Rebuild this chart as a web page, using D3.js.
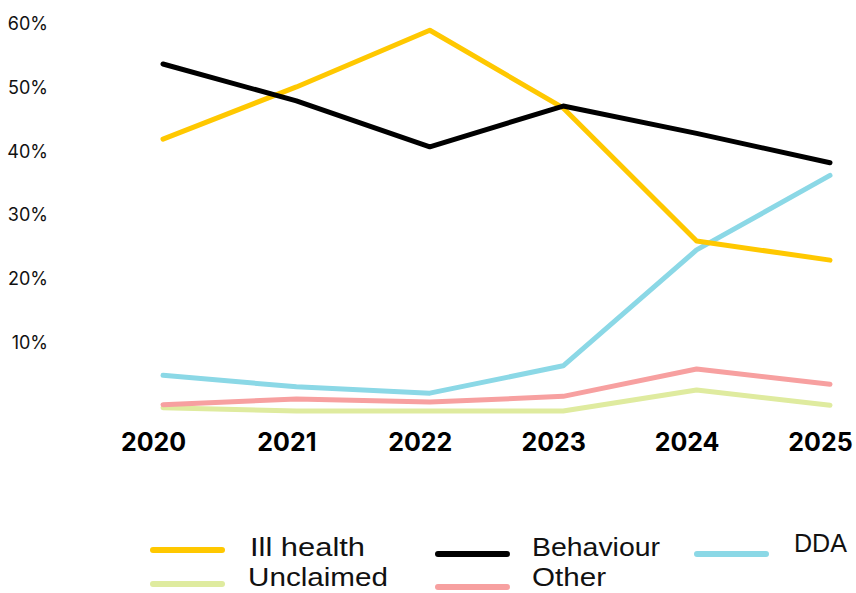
<!DOCTYPE html>
<html>
<head>
<meta charset="utf-8">
<script src="https://cdn.jsdelivr.net/npm/d3@7"></script>
<style>
  body { margin: 0; background: #fff; }
  svg { display: block; }
</style>
</head>
<body>
<div id="chart"></div>
<script>
const years = ["2020", "2021", "2022", "2023", "2024", "2025"];

const illHealth  = [42.7, 50.9, 59.8, 47.6, 26.7, 23.7];
const behaviour  = [54.5, 48.7, 41.5, 47.9, 43.6, 39.0];
const dda        = [5.6, 3.8, 2.8, 7.1, 25.3, 37.0];
const other      = [1.0, 1.9, 1.4, 2.3, 6.6, 4.2];
const unclaimed  = [0.5, 0.0, 0.0, 0.0, 3.3, 0.9];

const yTicks = [10, 20, 30, 40, 50, 60];

const seriesNames = ["Ill health", "Behaviour", "DDA", "Unclaimed", "Other"];
const seriesValues = [illHealth, behaviour, dda, unclaimed, other];
const seriesColors = ["#ffc800", "#000000", "#8bd8e6", "#dfeb9f", "#f7a0a0"];

const width = 856, height = 593;

const svg = d3.select("#chart")
  .append("svg")
  .attr("width", width)
  .attr("height", height);

const x = d3.scalePoint().domain(years).range([163, 830]);
const y = d3.scaleLinear().domain([0, 60]).range([411, 29]);

// y labels (no axis line)
const yAxis = svg.append("g")
  .attr("transform", "translate(48,0)")
  .call(d3.axisLeft(y).tickValues(yTicks).tickFormat(d => d + "%").tickSize(0).tickPadding(0));
yAxis.select(".domain").remove();
yAxis.selectAll("text")
  .attr("dy", "0.32em")
  .attr("y", -5)
  .style("font-family", "Inter, sans-serif")
  .style("font-size", "18px")
  .style("fill", "#111");

// x labels
const xAxis = svg.append("g")
  .attr("transform", "translate(-10,0)")
  .call(d3.axisBottom(x).tickSize(0).tickPadding(0));
xAxis.select(".domain").remove();
xAxis.selectAll("text")
  .attr("y", 451)
  .attr("dy", 0)
  .style("font-family", "Inter, sans-serif")
  .style("font-weight", "bold")
  .style("font-size", "25px")
  .style("fill", "#000");

const line = d3.line()
  .x((d, i) => x(years[i]))
  .y(d => y(d));

const drawOrder = [3, 4, 2, 0, 1];
drawOrder.forEach(i => {
  svg.append("path")
    .datum(seriesValues[i])
    .attr("fill", "none")
    .attr("stroke", seriesColors[i])
    .attr("stroke-width", 5)
    .attr("stroke-linecap", "round")
    .attr("stroke-linejoin", "round")
    .attr("d", line);
});

// legend (text stretched a bit, the original font is wider)
const legendItems = [
  { i: 0, lx: 153, ly: 550, tx: 250, ty: 556, w: 115 },
  { i: 1, lx: 438, ly: 554, tx: 532, ty: 556, w: 128 },
  { i: 2, lx: 697, ly: 554, tx: 794, ty: 552, w: 53 },
  { i: 3, lx: 153, ly: 584, tx: 248, ty: 586, w: 140 },
  { i: 4, lx: 438, ly: 587, tx: 532, ty: 586, w: 74 }
];

const legend = svg.append("g");
legendItems.forEach(d => {
  legend.append("line")
    .attr("x1", d.lx).attr("x2", d.lx + 69)
    .attr("y1", d.ly).attr("y2", d.ly)
    .attr("stroke", seriesColors[d.i])
    .attr("stroke-width", 6)
    .attr("stroke-linecap", "round");
  legend.append("text")
    .attr("x", d.tx)
    .attr("y", d.ty)
    .attr("textLength", d.w)
    .attr("lengthAdjust", "spacingAndGlyphs")
    .style("font-family", "'Liberation Sans', Arial, sans-serif")
    .style("font-size", "26px")
    .style("fill", "#111")
    .text(seriesNames[d.i]);
});
</script>
</body>
</html>
